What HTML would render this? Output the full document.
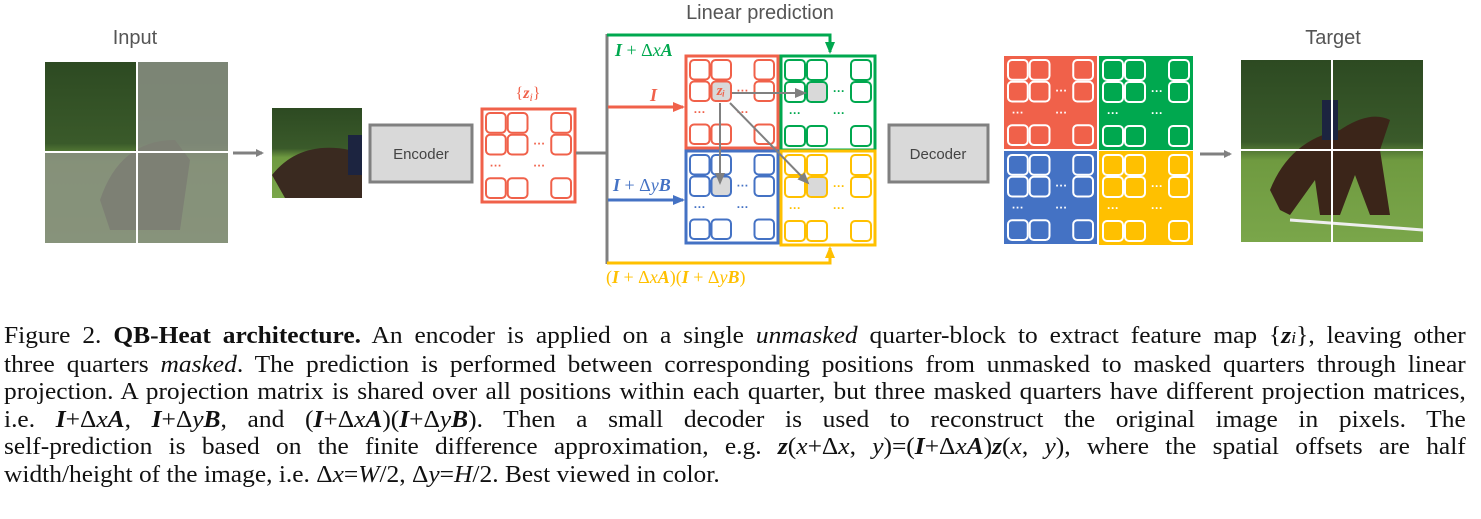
<!DOCTYPE html>
<html><head><meta charset="utf-8"><style>
body{margin:0;background:#fff;width:1481px;height:519px;overflow:hidden;position:relative;font-family:"Liberation Sans",sans-serif}
#cap{position:absolute;left:4px;top:323px;width:1379px;transform:scaleX(1.06);transform-origin:0 0;font-family:"Liberation Serif",serif;font-size:24px;line-height:27.5px;color:#111}
#cap div{text-align:justify;text-align-last:justify;white-space:nowrap;overflow:visible}
#cap div.last{text-align-last:left}
.m{font-style:italic;font-weight:bold}
</style></head><body>
<svg id="fig" width="1481" height="310" style="position:absolute;left:0;top:0" font-family="Liberation Sans, sans-serif">
<defs>
<marker id="ag" markerWidth="8" markerHeight="8" refX="6" refY="4" orient="auto" markerUnits="userSpaceOnUse"><path d="M0,0 L8,4 L0,8z" fill="#808080"/></marker>
<marker id="ar" markerWidth="12" markerHeight="10" refX="10" refY="5" orient="auto" markerUnits="userSpaceOnUse"><path d="M0,0 L12,5 L0,10z" fill="#f0614a"/></marker>
<marker id="ab" markerWidth="12" markerHeight="10" refX="10" refY="5" orient="auto" markerUnits="userSpaceOnUse"><path d="M0,0 L12,5 L0,10z" fill="#4472c4"/></marker>
<marker id="agr" markerWidth="12" markerHeight="10" refX="10" refY="5" orient="auto" markerUnits="userSpaceOnUse"><path d="M0,0 L12,5 L0,10z" fill="#00a84f"/></marker>
<marker id="ay" markerWidth="12" markerHeight="10" refX="10" refY="5" orient="auto" markerUnits="userSpaceOnUse"><path d="M0,0 L12,5 L0,10z" fill="#ffc000"/></marker>
<marker id="agray" markerWidth="12" markerHeight="10" refX="10" refY="5" orient="auto" markerUnits="userSpaceOnUse"><path d="M0,0 L12,5 L0,10z" fill="#808080"/></marker>
<linearGradient id="photo" x1="0" y1="0" x2="0" y2="1"><stop offset="0" stop-color="#2d4a22"/><stop offset="0.45" stop-color="#3a5a2a"/><stop offset="0.55" stop-color="#6f9a40"/><stop offset="1" stop-color="#7aa64a"/></linearGradient>
</defs>
<text x="135" y="44" font-size="20" fill="#555" text-anchor="middle">Input</text>
<text x="760" y="19" font-size="20" fill="#555" text-anchor="middle">Linear prediction</text>
<text x="1333" y="44" font-size="20" fill="#555" text-anchor="middle">Target</text>
<g>
<rect x="45" y="62" width="183" height="181" fill="url(#photo)"/>
<path d="M100,200 Q120,140 175,140 L190,160 L180,230 L110,230z" fill="#3a2a20"/>
<rect x="137" y="62" width="91" height="90" fill="#8a8f84" opacity="0.85"/>
<rect x="45" y="152" width="183" height="91" fill="#8a8f84" opacity="0.85"/>
<line x1="137" y1="62" x2="137" y2="243" stroke="#fff" stroke-width="2"/>
<line x1="45" y1="152" x2="228" y2="152" stroke="#fff" stroke-width="2"/>
</g>
<line x1="233" y1="153" x2="262" y2="153" stroke="#808080" stroke-width="3" marker-end="url(#ag)"/>
<g>
<rect x="272" y="108" width="90" height="90" fill="url(#photo)"/>
<path d="M272,175 Q300,140 350,150 L362,160 L362,198 L285,198z" fill="#3a2a20"/>
<rect x="348" y="135" width="14" height="40" fill="#1c2440"/>
</g>
<g><rect x="370" y="125" width="102" height="57" fill="#d9d9d9" stroke="#808080" stroke-width="3"/><text x="421" y="159" font-size="15" fill="#444" text-anchor="middle">Encoder</text></g>
<g><rect x="889" y="125" width="99" height="57" fill="#d9d9d9" stroke="#808080" stroke-width="3"/><text x="938" y="159" font-size="15" fill="#444" text-anchor="middle">Decoder</text></g>
<text x="528" y="98" font-size="16" fill="#f0614a" text-anchor="middle" font-family="Liberation Serif, serif">{<tspan font-weight="bold" font-style="italic">z</tspan><tspan font-style="italic" font-size="12" dy="3">i</tspan><tspan dy="-3">}</tspan></text>
<g id="grids"></g>
<g fill="none" stroke-width="3">
<line x1="576" y1="153" x2="607" y2="153" stroke="#808080"/>
<line x1="607" y1="34" x2="607" y2="264" stroke="#808080"/>
<polyline points="607,35 830,35 830,52" stroke="#00a84f" marker-end="url(#agr)"/>
<line x1="608" y1="107" x2="683" y2="107" stroke="#f0614a" marker-end="url(#ar)"/>
<line x1="608" y1="200" x2="683" y2="200" stroke="#4472c4" marker-end="url(#ab)"/>
<polyline points="607,263 830,263 830,248" stroke="#ffc000" marker-end="url(#ay)"/>
</g>
<g font-family="Liberation Serif, serif" font-size="18" font-style="italic" font-weight="bold">
<text x="615" y="56" fill="#00a84f">I <tspan font-weight="normal" font-style="normal">+ Δ</tspan><tspan font-weight="normal">x</tspan>A</text>
<text x="650" y="101" fill="#f0614a">I</text>
<text x="613" y="191" fill="#4472c4">I <tspan font-weight="normal" font-style="normal">+ Δ</tspan><tspan font-weight="normal">y</tspan>B</text>
<text x="606" y="283" fill="#ffc000"><tspan font-weight="normal" font-style="normal">(</tspan>I <tspan font-weight="normal" font-style="normal">+ Δ</tspan><tspan font-weight="normal">x</tspan>A<tspan font-weight="normal" font-style="normal">)(</tspan>I <tspan font-weight="normal" font-style="normal">+ Δ</tspan><tspan font-weight="normal">y</tspan>B<tspan font-weight="normal" font-style="normal">)</tspan></text>
</g>
<line x1="1200" y1="154" x2="1230" y2="154" stroke="#808080" stroke-width="3" marker-end="url(#ag)"/>
<g>
<rect x="1241" y="60" width="182" height="182" fill="url(#photo)"/>
<path d="M1270,190 Q1290,140 1340,130 Q1370,110 1390,120 L1380,150 L1390,215 L1370,215 L1355,175 L1340,215 L1320,215 L1315,180 L1290,215 L1280,210z" fill="#3b2519"/>
<rect x="1322" y="100" width="16" height="40" fill="#1c2440"/>
<line x1="1290" y1="220" x2="1423" y2="230" stroke="#eee" stroke-width="3"/>
<line x1="1332" y1="60" x2="1332" y2="242" stroke="#fff" stroke-width="2"/>
<line x1="1241" y1="150" x2="1423" y2="150" stroke="#fff" stroke-width="2"/>
</g>
</svg>
<div id="cap">
<div>Figure 2. <b>QB-Heat architecture.</b> An encoder is applied on a single <i>unmasked</i> quarter-block to extract feature map {<span class="m">z</span><i style="font-size:17px">i</i>}, leaving other</div>
<div>three quarters <i>masked</i>. The prediction is performed between corresponding positions from unmasked to masked quarters through linear</div>
<div>projection. A projection matrix is shared over all positions within each quarter, but three masked quarters have different projection matrices,</div>
<div>i.e. <span class="m">I</span>+Δ<i>x</i><span class="m">A</span>, <span class="m">I</span>+Δ<i>y</i><span class="m">B</span>, and (<span class="m">I</span>+Δ<i>x</i><span class="m">A</span>)(<span class="m">I</span>+Δ<i>y</i><span class="m">B</span>). Then a small decoder is used to reconstruct the original image in pixels. The</div>
<div>self-prediction is based on the finite difference approximation, e.g. <span class="m">z</span>(<i>x</i>+Δ<i>x</i>, <i>y</i>)=(<span class="m">I</span>+Δ<i>x</i><span class="m">A</span>)<span class="m">z</span>(<i>x</i>, <i>y</i>), where the spatial offsets are half</div>
<div class="last">width/height of the image, i.e. Δ<i>x</i>=<i>W</i>/2, Δ<i>y</i>=<i>H</i>/2. Best viewed in color.</div>
</div>
<script>
const NS="http://www.w3.org/2000/svg";
const g=document.getElementById('grids');
const cells=[[0,0],[1,0],[3,0],[0,1],[1,1],[3,1],[0,3],[1,3],[3,3]];
const dots=[[2,1],[0,2],[2,2]];
function mk(tag,attrs,parent){const e=document.createElementNS(NS,tag);for(const k in attrs)e.setAttribute(k,attrs[k]);(parent||g).appendChild(e);return e;}
function grid(name,x,y,s,color,filled,hi){
  const grp=mk('g',{});
  
  
  mk('rect',{x:x,y:y,width:s,height:s,fill:filled?color:'#fff',stroke:filled?'none':color,'stroke-width':3},grp);
  const c=(s-6)/4;
  cells.forEach(([i,j])=>{
    const isHi=hi&&hi[0]===i&&hi[1]===j;
    const r=mk('rect',{x:x+3+i*c+1,y:y+3+j*c+1,width:c-2,height:c-2,rx:4,fill:isHi?'#d9d9d9':(filled?color:'#fff'),stroke:filled?'#fff':color,'stroke-width':2},grp);
    
    
  });
  dots.forEach(([i,j])=>{
    const t=mk('text',{x:x+3+i*c+c/2,y:y+3+j*c+c/2+3,'font-size':12,'font-weight':'bold',fill:filled?'#fff':color,'text-anchor':'middle'},grp);
    t.textContent='···';
  });
}
grid('feature-map-grid',482,109,93,'#f0614a',false);
grid('red-quarter-grid',686,56,92,'#f0614a',false,[1,1]);
grid('green-quarter-grid',781,56,94,'#00a84f',false,[1,1]);
grid('blue-quarter-grid',686,151,92,'#4472c4',false,[1,1]);
grid('yellow-quarter-grid',781,151,94,'#ffc000',false,[1,1]);
grid('decoded-red-grid',1004,56,93,'#f0614a',true);
grid('decoded-green-grid',1099,56,94,'#00a84f',true);
grid('decoded-blue-grid',1004,151,93,'#4472c4',true);
grid('decoded-yellow-grid',1099,151,94,'#ffc000',true);
const zt=mk('text',{x:721,y:95,'font-size':15,'font-weight':'bold','font-style':'italic',fill:'#f0614a','text-anchor':'middle','font-family':'Liberation Serif, serif'});


zt.textContent='zᵢ';
[[732,93,805,93],[720,103,720,183],[730,103,808,183]].forEach(a=>{
  const l=mk('line',{x1:a[0],y1:a[1],x2:a[2],y2:a[3],stroke:'#808080','stroke-width':2,'marker-end':'url(#agray)'});
  
  
});
</script>
</body></html>
